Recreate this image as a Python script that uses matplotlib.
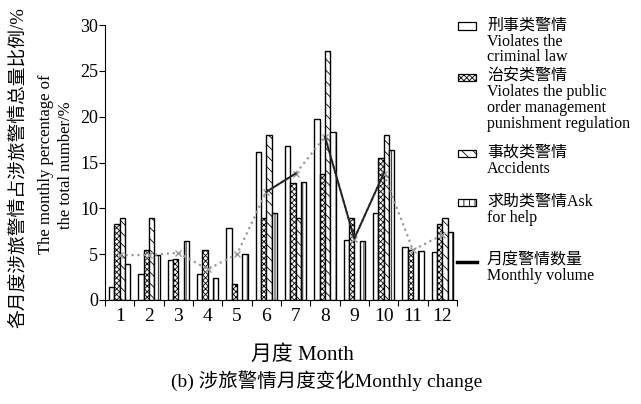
import numpy as np
import matplotlib
matplotlib.use('Agg')
import matplotlib.pyplot as plt
from matplotlib.patches import Rectangle
from matplotlib.lines import Line2D

plt.rcParams['font.family'] = ['Liberation Serif', 'Noto Sans CJK SC']
plt.rcParams['hatch.linewidth'] = 0.6

months = np.arange(1, 13)
month_labels = [str(m) for m in months]

# share of each month in the yearly total, per category (%)
criminal = [1.45, 2.8, 4.4, 2.8, 7.9, 16.2, 16.8, 19.7, 6.5, 9.45, 5.8, 5.2]
public_order = [8.25, 5.5, 4.5, 5.45, 1.7, 9.0, 12.8, 13.8, 9.0, 15.5, 5.45, 8.25]
accidents = [9.0, 9.0, 0.0, 0.0, 0.0, 18.0, 9.0, 27.2, 0.0, 18.0, 0.0, 9.0]
ask_help = [3.9, 4.9, 6.4, 2.4, 5.0, 9.5, 12.9, 18.3, 6.4, 16.4, 5.4, 7.45]
monthly_volume = [4.9, 4.9, 5.15, 3.35, 5.0, 11.8, 13.8, 17.8, 6.7, 13.8, 5.45, 7.1]

series = [criminal, public_order, accidents, ask_help]
hatches = ['', 'xxxxxx', '\\\\\\', '|||']
offsets = [-0.27, -0.09, 0.09, 0.27]
width = 0.18

fig = plt.figure(figsize=(6.41, 4.04), dpi=100)
ax = fig.add_axes([105 / 641, 1 - 300 / 404, 352 / 641, 275 / 404])

for vals, h, off in zip(series, hatches, offsets):
    ax.bar(months + off, vals, width=width, facecolor='white', edgecolor='black',
           linewidth=1.0, hatch=h, zorder=2)

# the volume line prints partly grey dotted, partly solid black
ax.plot(months, monthly_volume, color='#999999', linestyle=':', linewidth=1.6,
        marker='x', markersize=4, zorder=3)
for a, b in [(6, 7), (8, 10)]:
    ax.plot(months[a - 1:b], monthly_volume[a - 1:b], color='#222222',
            linewidth=1.4, zorder=4)

ax.set_xlim(0.5, 12.5)
ax.set_ylim(0, 30)
ax.set_yticks(range(0, 31, 5))
ax.set_xticks(months)
ax.set_xticklabels(month_labels)
ax.set_xticks(np.arange(0.5, 12.6, 1), minor=True)
ax.tick_params(axis='x', which='major', length=0, labelsize=14, pad=6)
ax.tick_params(axis='x', which='minor', length=4, direction='out', width=0.8)
ax.tick_params(axis='y', length=4, direction='out', width=0.8, labelsize=13, pad=1)
for s in ['top', 'right']:
    ax.spines[s].set_visible(False)
for s in ['left', 'bottom']:
    ax.spines[s].set_linewidth(0.8)

fig.text(18 / 641, 1 - 168 / 404, '各月度涉旅警情占涉旅警情总量比例/%', rotation=90,
         ha='center', va='center', fontsize=13.5)
fig.text(46 / 641, 1 - 164 / 404, 'The monthly percentage of', rotation=90,
         ha='center', va='center', fontsize=12)
fig.text(66 / 641, 1 - 165 / 404, 'the total number/%', rotation=90,
         ha='center', va='center', fontsize=12)

fig.text(302 / 641, 1 - 355 / 404, '月度 Month', ha='center', va='center', fontsize=15)
fig.text(327 / 641, 1 - 381 / 404, '(b) 涉旅警情月度变化Monthly change',
         ha='center', va='center', fontsize=14)

# legend drawn by hand
leg_x = 458
tx = 487
legend_items = [
    (26, ['刑事类警情', 'Violates the', 'criminal law']),
    (77, ['治安类警情', 'Violates the public', 'order management', 'punishment regulation']),
    (153, ['事故类警情', 'Accidents']),
    (202, ['求助类警情Ask', 'for help']),
]
for (yc, lines), h in zip(legend_items, hatches):
    fig.patches.append(Rectangle((leg_x / 641, 1 - (yc + 3.5) / 404), 18 / 641, 7 / 404,
                                 transform=fig.transFigure, facecolor='white',
                                 edgecolor='black', linewidth=0.9, hatch=h))
    for i, t in enumerate(lines):
        fig.text(tx / 641, 1 - (yc + i * 15.5) / 404, t, ha='left', va='center',
                 fontsize=11.5)

fig.lines.append(Line2D([457 / 641, 477 / 641], [1 - 262 / 404, 1 - 262 / 404],
                        transform=fig.transFigure, color='black', linewidth=2.5))
fig.text(tx / 641, 1 - 260 / 404, '月度警情数量', ha='left', va='center', fontsize=11.5)
fig.text(tx / 641, 1 - 275.5 / 404, 'Monthly volume', ha='left', va='center', fontsize=11.5)

fig.savefig('out.png', dpi=100, facecolor='white')
